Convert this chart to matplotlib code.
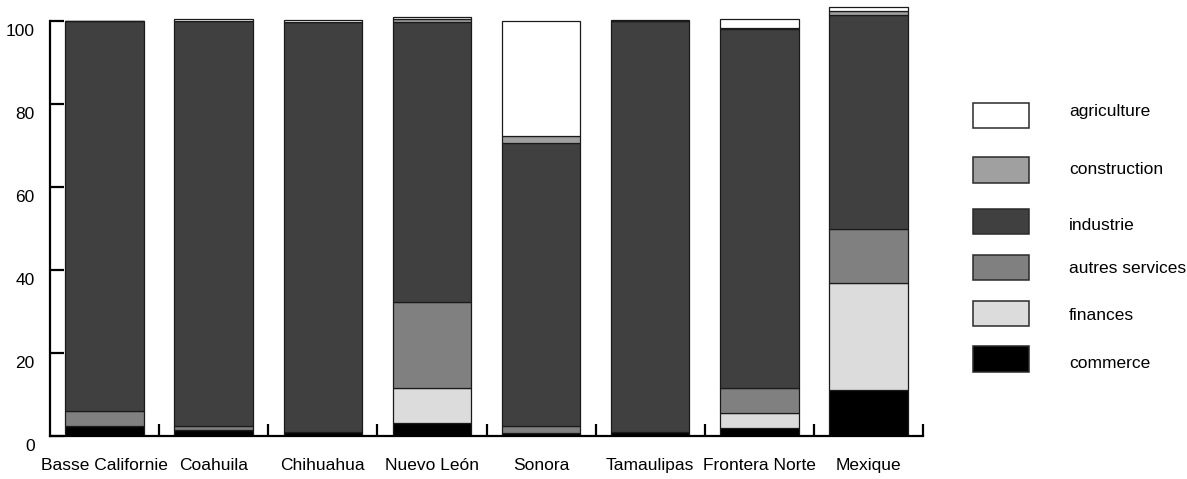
import numpy as np
import matplotlib
matplotlib.use('Agg')
import matplotlib.pyplot as plt
import matplotlib.transforms as mtransforms
from matplotlib.patches import Rectangle

plt.rcParams['font.family'] = ['Liberation Sans', 'DejaVu Sans']

regions = ['Basse Californie', 'Coahuila', 'Chihuahua', 'Nuevo León', 'Sonora',
           'Tamaulipas', 'Frontera Norte', 'Mexique']

# shares (%) by sector
commerce = [2.4, 1.5, 1.0, 3.1, 0.7, 1.0, 2.0, 11.1]
finances = [0.0, 0.0, 0.0, 8.5, 0.0, 0.0, 3.5, 25.8]
autres_services = [3.6, 1.0, 0.0, 20.7, 1.6, 0.0, 6.1, 13.0]
industrie = [94.0, 97.5, 98.7, 67.5, 68.3, 99.0, 86.4, 51.5]
construction = [0.0, 0.0, 0.0, 0.7, 1.7, 0.0, 0.3, 1.0]
agriculture = [0.0, 0.5, 0.6, 0.5, 27.7, 0.3, 2.2, 0.9]

series = [
    ('commerce', commerce, '#000000'),
    ('finances', finances, '#dcdcdc'),
    ('autres services', autres_services, '#808080'),
    ('industrie', industrie, '#404040'),
    ('construction', construction, '#a0a0a0'),
    ('agriculture', agriculture, '#ffffff'),
]

W, H = 1187, 479
fig = plt.figure(figsize=(W / 100, H / 100), dpi=100)
ax = fig.add_axes([50 / W, 43 / H, 873 / W, 431.6 / H])

x = np.arange(len(regions))
bottom = np.zeros(len(regions))
for name, vals, col in series:
    ax.bar(x, vals, width=0.72, bottom=bottom, color=col, edgecolor='#1a1a1a',
           linewidth=0.9)
    bottom += np.array(vals)

ax.set_xlim(-0.5, len(regions) - 0.5)
ax.set_ylim(0, 104)
ax.spines['top'].set_visible(False)
ax.spines['right'].set_visible(False)
ax.spines['left'].set_bounds(0, 100)
ax.spines['left'].set_linewidth(1.6)
ax.spines['bottom'].set_linewidth(1.6)

ax.set_yticks([0, 20, 40, 60, 80, 100])
ax.tick_params(axis='y', direction='in', length=10, width=1.6, labelsize=12.5, pad=11)
# labels sit a little below their ticks in the original
offset = mtransforms.ScaledTranslation(0, -9 / 100, fig.dpi_scale_trans)
for lab in ax.get_yticklabels():
    lab.set_transform(lab.get_transform() + offset)

ax.set_xticks(x)
ax.set_xticklabels(regions)
ax.tick_params(axis='x', which='major', length=0, labelsize=12.5, pad=16)
ax.set_xticks(np.arange(len(regions)) + 0.5, minor=True)
ax.tick_params(axis='x', which='minor', direction='in', length=8.5, width=1.6)

# legend drawn by hand: the original rows are not evenly spaced
legend_tops = [102.7, 157.3, 208.7, 254.7, 300.7, 346.3]  # pixels from top
legend_baselines = [116, 174, 230, 273, 320, 367.5]
for (name, vals, col), top, base in zip(series[::-1], legend_tops, legend_baselines):
    fig.patches.append(Rectangle((973 / W, 1 - (top + 25.6) / H), 55.5 / W, 25.6 / H,
                                 transform=fig.transFigure, facecolor=col,
                                 edgecolor='#2a2a2a', linewidth=1.1))
    fig.text(1069 / W, 1 - base / H, name, fontsize=12.5, va='baseline',
             ha='left')

fig.savefig('out.png', dpi=100)
